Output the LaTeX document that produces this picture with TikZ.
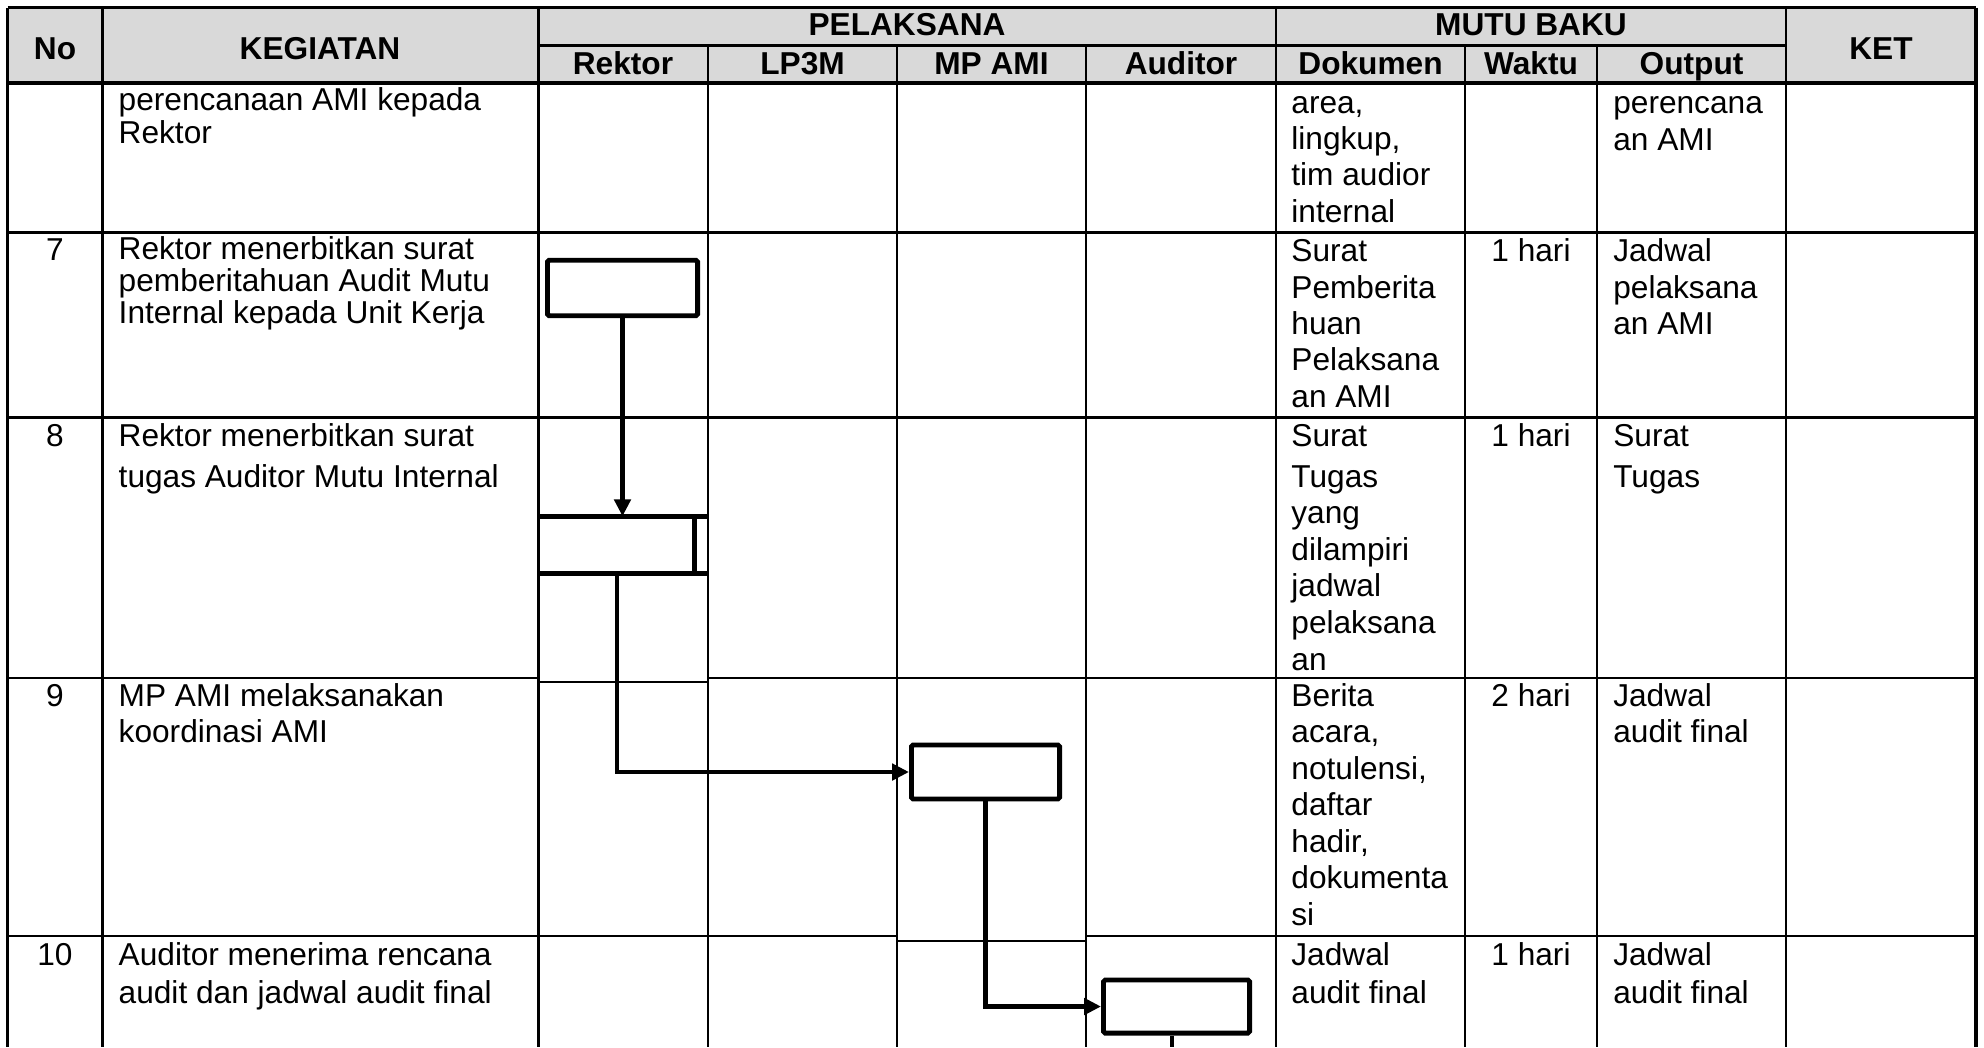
\documentclass[tikz,border=0pt]{standalone}
\usepackage{fontspec}
\setmainfont{Liberation Sans}
\usetikzlibrary{arrows.meta}
\definecolor{headgray}{HTML}{D9D9D9}
\newcommand{\celltext}[2]{{\fontsize{9}{#1}\selectfont\begin{tabular}[t]{@{}l@{}}#2\end{tabular}}}

\begin{document}
\begin{tikzpicture}[
                x=0.01cm, y=-0.01cm,
                grid/.style={line width=0.6pt},
                frame/.style={line width=0.9pt},
                head/.style={font=\fontsize{9}{10}\selectfont\bfseries, anchor=base, inner sep=0pt},
                num/.style={font=\fontsize{9}{10}\selectfont, anchor=base, inner sep=0pt},
                txt/.style={anchor=base west, inner sep=0pt},
                flowbox/.style={draw, line width=1.4pt, rounded corners=0.5pt, inner sep=0pt},
                flow/.style={line width=1.3pt, -{Triangle[length=4.8pt,width=4.6pt]}}
                ]
                \useasboundingbox (0,0) rectangle (1984,1047);
                % table header
                \fill[headgray] (7.5,7.5) rectangle (1976,83);
                \draw[frame] (7.5,7.5) -- (1976,7.5);
                \draw[grid] (538.5,45.5) -- (1786,45.5);
                \draw[frame] (7.5,83) -- (1976,83);
                % row rules
                \draw[grid] (7.5,232.5) -- (1976,232.5);
                \draw[grid] (7.5,417.5) -- (1976,417.5);
                \draw[grid] (7.5,678) -- (538.5,678) (708,678) -- (1976,678);
                \draw[grid] (538.5,682) -- (708,682);
                \draw[grid] (7.5,936) -- (897,936) (1086,936) -- (1976,936);
                \draw[grid] (897,941) -- (1086,941);
                % column rules
                \foreach \xc in {102.5,538.5,1276,1786}
                    \draw[grid] (\xc,7.5) -- (\xc,1047);
                \foreach \xc in {708,897,1086,1465,1597}
                    \draw[grid] (\xc,45.5) -- (\xc,1047);
                \draw[frame] (7.5,7.5) -- (7.5,1047) (1976,7.5) -- (1976,1047);

                \node[head] (hno) at (55,59) {No};
                \node[head] (hkeg) at (320,59) {KEGIATAN};
                \node[head] (hpel) at (907,35) {PELAKSANA};
                \node[head] (hmutu) at (1531,35) {MUTU BAKU};
                \node[head] (hket) at (1881,59) {KET};
                \foreach \name/\xc/\lab in {rek/623/Rektor, lp/802.5/LP3M, mp/991.5/MP AMI,
                        aud/1181/Auditor, dok/1370.5/Dokumen, wkt/1531/Waktu, outp/1691.5/Output}
                    \node[head] (h\name) at (\xc,74) {\lab};

                % row numbers
                \node[num] (n7) at (55,260) {7};
                \node[num] (n8) at (55,446) {8};
                \node[num] (n9) at (55,706) {9};
                \node[num] (n10) at (55,965) {10};

                % kegiatan
                \node[txt] (k6) at (118,110.7) {\celltext{9pt}{perencanaan AMI kepada\\Rektor}};
                \node[txt] (k7) at (118,259) {\celltext{9pt}{Rektor menerbitkan surat\\pemberitahuan Audit Mutu\\Internal kepada Unit Kerja}};
                \node[txt] (k8) at (118,446) {\celltext{11.7pt}{Rektor menerbitkan surat\\tugas Auditor Mutu Internal}};
                \node[txt] (k9) at (118,706) {\celltext{10.5pt}{MP AMI melaksanakan\\koordinasi AMI}};
                \node[txt] (k10) at (118,965) {\celltext{10.95pt}{Auditor menerima rencana\\audit dan jadwal audit final}};

                % dokumen
                \node[txt] (d6) at (1290.7,113) {\celltext{10.35pt}{area,\\lingkup,\\tim audior\\internal}};
                \node[txt] (d7) at (1290.7,261.7) {\celltext{10.35pt}{Surat\\Pemberita\\huan\\Pelaksana\\an AMI}};
                \node[txt] (d8) at (1290.7,446) {\celltext{10.4pt}{Surat\\[1.3pt]Tugas\\yang\\dilampiri\\jadwal\\pelaksana\\an}};
                \node[txt] (d9) at (1290.7,706) {\celltext{10.4pt}{Berita\\acara,\\notulensi,\\daftar\\hadir,\\dokumenta\\si}};
                \node[txt] (d10) at (1290.7,965) {\celltext{10.95pt}{Jadwal\\audit final}};

                % waktu
                \node[num] (w7) at (1531,261.7) {1 hari};
                \node[num] (w8) at (1531,446) {1 hari};
                \node[num] (w9) at (1531,706) {2 hari};
                \node[num] (w10) at (1531,965) {1 hari};

                % output
                \node[txt] (o6) at (1612.6,113) {\celltext{10.7pt}{perencana\\an AMI}};
                \node[txt] (o7) at (1612.6,261.7) {\celltext{10.35pt}{Jadwal\\pelaksana\\an AMI}};
                \node[txt] (o8) at (1612.6,446) {\celltext{11.7pt}{Surat\\Tugas}};
                \node[txt] (o9) at (1612.6,706) {\celltext{10.5pt}{Jadwal\\audit final}};
                \node[txt] (o10) at (1612.6,965) {\celltext{10.95pt}{Jadwal\\audit final}};

                % flow boxes
                \node[flowbox, minimum width=1.50cm, minimum height=0.555cm] (b7) at (622.5,288) {};
                \node[minimum width=1.70cm, minimum height=0.56cm, inner sep=0pt] (b8) at (623,545) {};
                \draw[line width=1.5pt] (b8.north west) -- (b8.north east) (b8.south west) -- (b8.south east);
                \draw[line width=1.4pt] ([xshift=-0.14cm]b8.north east) -- ([xshift=-0.14cm]b8.south east);
                \node[flowbox, minimum width=1.48cm, minimum height=0.54cm] (b9) at (985.5,772) {};
                \node[flowbox, minimum width=1.46cm, minimum height=0.53cm] (b10) at (1176.5,1006.5) {};
                \coordinate (next) at (1172,1047);

                \draw[flow] (b7.south) -- (b7.south |- b8.north);
                \draw[flow] ([xshift=-0.06cm]b8.south) |- (b9.west);
                \draw[flow] (b9.south) |- (b10.west);
                \draw[line width=1.3pt] (b10.south -| next) -- (next);
            \end{tikzpicture}
\end{document}
